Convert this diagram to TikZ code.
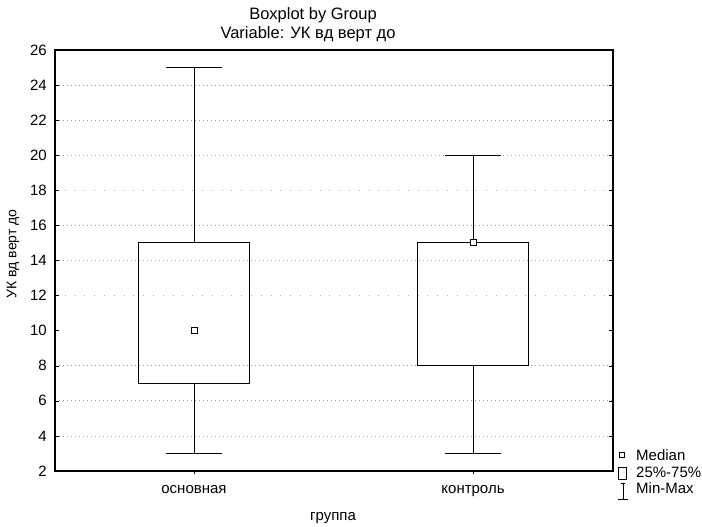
\documentclass[tikz,border=0pt]{standalone}
\usepackage{fontspec}
\setmainfont{Liberation Sans}
\usetikzlibrary{positioning}

\tikzset{
    frame/.style={line width=1.2pt},
    gridline/.style={dash pattern=on 0.8pt off 3.2pt, gray!80, line width=0.7pt},
    sparse/.style={dash pattern=on 0.8pt off 9pt, gray!60, line width=0.6pt},
    box/.style={draw, line width=1pt},
    whisker/.style={line width=0.9pt},
    median/.style={draw, fill=white, line width=1pt, minimum size=6pt, inner sep=0pt},
    lbl/.style={font=\fontsize{15}{17}\selectfont, inner sep=0pt},
    ttl/.style={font=\fontsize{16.5}{19}\selectfont, inner sep=0pt}
}

\begin{document}
\begin{tikzpicture}[x=1pt,y=1pt]
    \useasboundingbox (0,0) rectangle (702,527);

    \node[ttl, anchor=base] (title) at (313,507) {Boxplot by Group};
    \node[ttl, anchor=base] (subtitle) at (308,488) {Variable: УК вд верт до};

    % values: one unit = 17.54pt
    \begin{scope}[y=17.54pt, shift={(0,20.92pt)}]
        \foreach \v in {4,6,8,14,16,20,22,24}{
            \draw[gridline] (55,\v) -- (613,\v);
        }
        \foreach \v in {12,18}{
            \draw[sparse] (55,\v) -- (613,\v);
        }
        \draw[frame] (55,2) rectangle (613,26);
        \foreach \v in {2,4,...,26}{
            \draw (55,\v) -- ++(4,0);
            \draw (613,\v) -- ++(-4,0);
            \node[lbl, anchor=east] (tick\v) at (47,\v) {\v};
        }

        \foreach \x/\grp/\lo/\qa/\md/\qb/\hi/\cat in
            {194/osn/3/7/10/15/25/основная, 473/kon/3/8/15/15/20/контроль}{
            \coordinate (\grp base) at (\x,2);
            \coordinate (\grp lo) at (\x,\lo);
            \coordinate (\grp qa) at (\x,\qa);
            \coordinate (\grp qb) at (\x,\qb);
            \coordinate (\grp hi) at (\x,\hi);
            \draw (\grp base) -- ++(0,-3pt);
            \draw[whisker] (\grp lo) -- (\grp qa);
            \draw[whisker] (\grp qb) -- (\grp hi);
            \draw[whisker] ([xshift=-28pt]\grp lo) -- ([xshift=28pt]\grp lo);
            \draw[whisker] ([xshift=-28pt]\grp hi) -- ([xshift=28pt]\grp hi);
            \draw[box] ([xshift=-55.5pt]\grp qa) rectangle ([xshift=55.5pt]\grp qb);
            \node[median] (\grp md) at (\x,\md) {};
            \node[lbl, below=14pt of \grp base] (\grp lab) {\cat};
        }
    \end{scope}

    \node[lbl, anchor=base] (xtitle) at (333,6) {группа};
    \node[lbl, font=\fontsize{14}{16}\selectfont, rotate=90] (ytitle) at (13,273) {УК вд верт до};

    % legend
    \node[median, minimum size=5pt] (legmd) at (622,72) {};
    \node[lbl, anchor=base west] (legmdtxt) at (636,66) {Median};
    \draw[line width=0.9pt] (618,48) rectangle (626,60);
    \node[lbl, anchor=base west] (legboxtxt) at (636,49) {25\%-75\%};
    \coordinate (legtop) at (623,44);
    \coordinate (legbot) at (623,28);
    \draw[line width=0.8pt] (legtop) -- (legbot);
    \draw[line width=0.8pt] ([xshift=-2pt]legtop) -- ([xshift=2pt]legtop);
    \draw[line width=0.8pt] ([xshift=-5pt]legbot) -- ([xshift=5pt]legbot);
    \node[lbl, anchor=base west] (legmmtxt) at (636,33) {Min-Max};
\end{tikzpicture}
\end{document}
